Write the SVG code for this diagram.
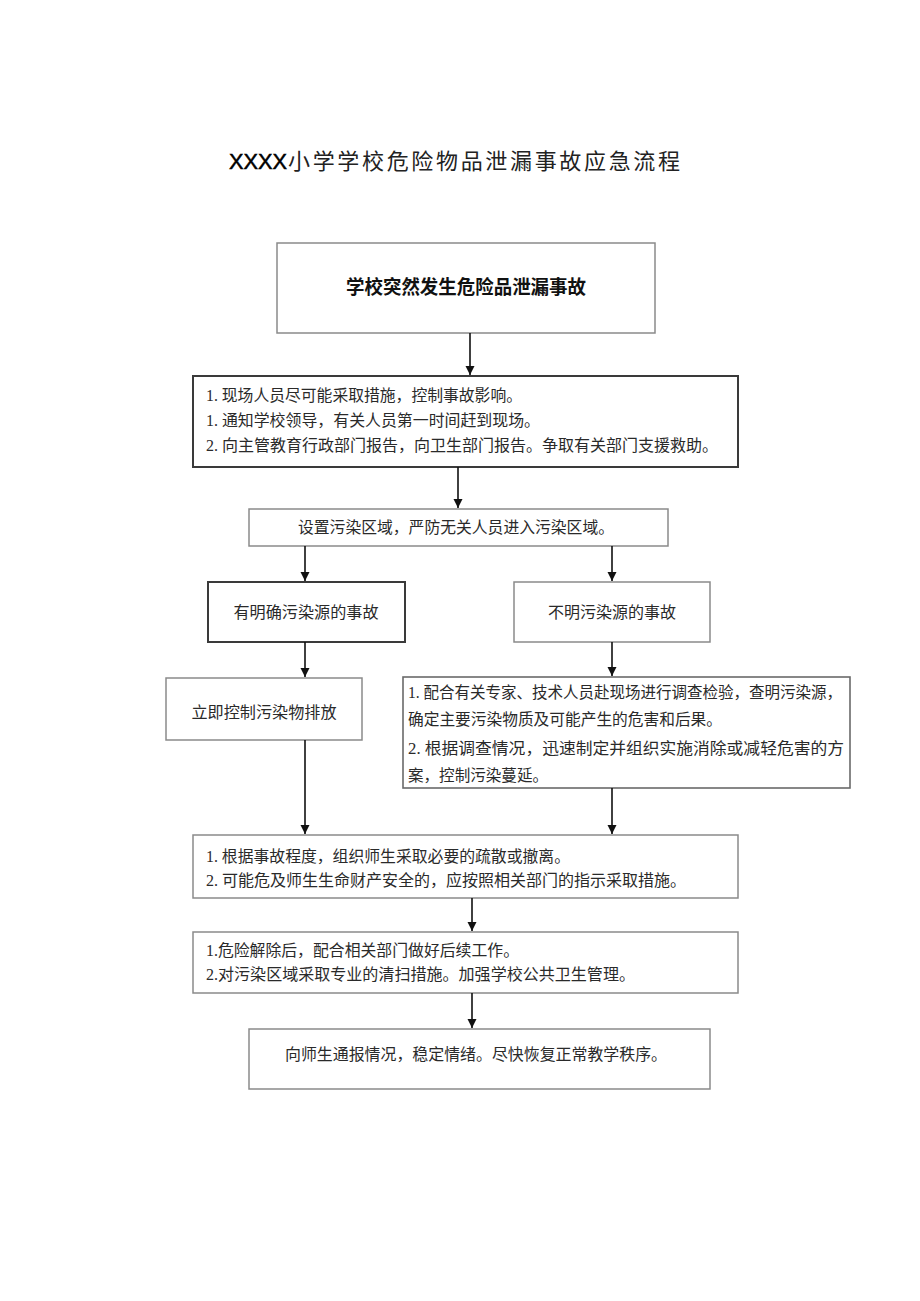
<svg xmlns="http://www.w3.org/2000/svg" width="920" height="1301" viewBox="0 0 920 1301">
<defs>
<marker id="ah" markerWidth="10" markerHeight="10" refX="9" refY="5" orient="auto" markerUnits="userSpaceOnUse">
<path d="M0,0.5 L9,5 L0,9.5 Z" fill="#111"/>
</marker>
<style>
.box{fill:#fff;stroke:#8a8a8a;stroke-width:1.5}
.dark{fill:#fff;stroke:#3a3a3a;stroke-width:2}
.mid{fill:#fff;stroke:#6a6a6a;stroke-width:1.6}
.t{font-family:"Liberation Serif","Noto Sans CJK SC",serif;font-size:16px;fill:#2a2a2a}
.c{text-anchor:middle}
.title{font-family:"Liberation Sans","Noto Sans CJK SC",sans-serif;font-size:22px;fill:#222}
.bold{font-family:"Liberation Sans","Noto Sans CJK SC",sans-serif;font-size:19px;font-weight:bold;fill:#111}
.conn line{stroke:#111;stroke-width:1.6;marker-end:url(#ah)}
</style>
</defs>
<rect width="920" height="1301" fill="#fff"/>
<g id="title">
<text class="title" x="229" y="169" textLength="58" lengthAdjust="spacingAndGlyphs" style="fill:#000;stroke:#000;stroke-width:0.5">XXXX</text>
<text class="title" x="288" y="169" textLength="392" lengthAdjust="spacing">小学学校危险物品泄漏事故应急流程</text>
</g>

<g id="n1"><rect class="box" x="277" y="243" width="378" height="90"/>
<text class="bold c" x="466" y="294" textLength="240" lengthAdjust="spacingAndGlyphs">学校突然发生危险品泄漏事故</text></g>

<g id="n2"><rect class="dark" x="193" y="376" width="545" height="91"/>
<text class="t" x="206" y="401" textLength="316" lengthAdjust="spacingAndGlyphs">1. 现场人员尽可能采取措施，控制事故影响。</text>
<text class="t" x="206" y="426" textLength="334" lengthAdjust="spacingAndGlyphs">1. 通知学校领导，有关人员第一时间赶到现场。</text>
<text class="t" x="206" y="451" textLength="512" lengthAdjust="spacingAndGlyphs">2. 向主管教育行政部门报告，向卫生部门报告。争取有关部门支援救助。</text></g>

<g id="n3"><rect class="box" x="249" y="509" width="419" height="37"/>
<text class="t c" x="456" y="533" textLength="316" lengthAdjust="spacingAndGlyphs">设置污染区域，严防无关人员进入污染区域。</text></g>

<g id="n4a"><rect class="dark" x="208" y="582" width="197" height="60"/>
<text class="t c" x="306" y="618" textLength="145" lengthAdjust="spacingAndGlyphs">有明确污染源的事故</text></g>

<g id="n4b"><rect class="box" x="514" y="582" width="196" height="60"/>
<text class="t c" x="612" y="618" textLength="128" lengthAdjust="spacingAndGlyphs">不明污染源的事故</text></g>

<g id="n5a"><rect class="box" x="166" y="678" width="196" height="62"/>
<text class="t c" x="264" y="718" textLength="145" lengthAdjust="spacingAndGlyphs">立即控制污染物排放</text></g>

<g id="n5b"><rect class="mid" x="403" y="677" width="447" height="111"/>
<text class="t" x="408" y="698" textLength="434" lengthAdjust="spacingAndGlyphs">1. 配合有关专家、技术人员赴现场进行调查检验，查明污染源，</text>
<text class="t" x="408" y="725" textLength="314" lengthAdjust="spacingAndGlyphs">确定主要污染物质及可能产生的危害和后果。</text>
<text class="t" x="408" y="754" textLength="436" lengthAdjust="spacingAndGlyphs">2. 根据调查情况，迅速制定并组织实施消除或减轻危害的方</text>
<text class="t" x="408" y="781" textLength="140" lengthAdjust="spacingAndGlyphs">案，控制污染蔓延。</text></g>

<g id="n6"><rect class="box" x="193" y="835" width="545" height="63"/>
<text class="t" x="206" y="862" textLength="364" lengthAdjust="spacingAndGlyphs">1. 根据事故程度，组织师生采取必要的疏散或撤离。</text>
<text class="t" x="206" y="886" textLength="480" lengthAdjust="spacingAndGlyphs">2. 可能危及师生生命财产安全的，应按照相关部门的指示采取措施。</text></g>

<g id="n7"><rect class="box" x="193" y="932" width="545" height="61"/>
<text class="t" x="206" y="956" textLength="313" lengthAdjust="spacingAndGlyphs">1.危险解除后，配合相关部门做好后续工作。</text>
<text class="t" x="206" y="980" textLength="429" lengthAdjust="spacingAndGlyphs">2.对污染区域采取专业的清扫措施。加强学校公共卫生管理。</text></g>

<g id="n8"><rect class="box" x="249" y="1029" width="461" height="60"/>
<text class="t c" x="476" y="1060" textLength="382" lengthAdjust="spacingAndGlyphs">向师生通报情况，稳定情绪。尽快恢复正常教学秩序。</text></g>

<g id="connectors" class="conn">
<line x1="470" y1="333" x2="470" y2="375"/>
<line x1="458" y1="467" x2="458" y2="508"/>
<line x1="305" y1="546" x2="305" y2="581"/>
<line x1="612" y1="546" x2="612" y2="581"/>
<line x1="305" y1="642" x2="305" y2="677"/>
<line x1="612" y1="642" x2="612" y2="676"/>
<line x1="305" y1="740" x2="305" y2="834"/>
<line x1="612" y1="788" x2="612" y2="834"/>
<line x1="472" y1="898" x2="472" y2="931"/>
<line x1="472" y1="993" x2="472" y2="1028"/>
</g>
</svg>
